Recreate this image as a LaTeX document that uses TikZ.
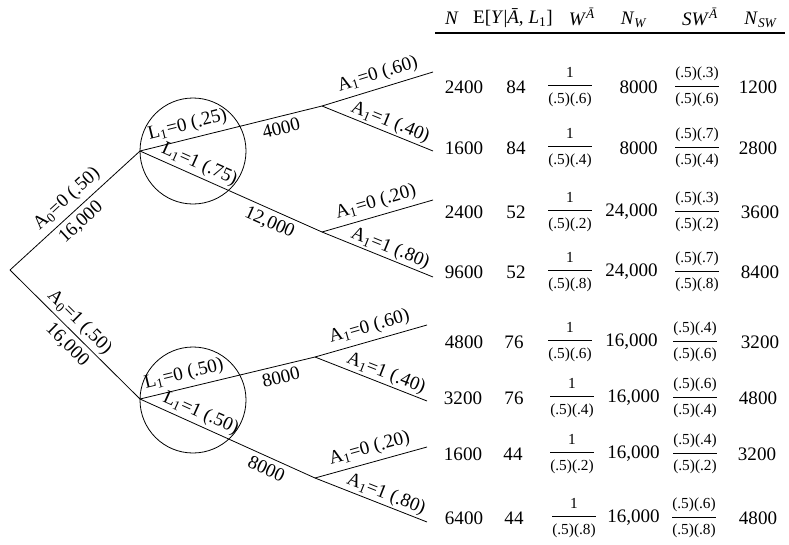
\documentclass[tikz,border=0pt]{standalone}
\usepackage[no-math]{fontspec}
\setmainfont{Liberation Serif}
\newcommand{\wfrac}[2]{$\displaystyle\frac{\mbox{\fontsize{11.5}{13}\selectfont #1}}{\mbox{\fontsize{11.5}{13}\selectfont #2}}$}
\tikzset{
  branch/.style={line width=0.6pt},
  lbl/.style={sloped, inner sep=3.5pt},
  cell/.style={inner sep=0pt, anchor=center},
  num/.style={inner sep=0pt, anchor=east},
  lcircle/.style={draw, circle, line width=0.6pt, minimum size=79.5pt, inner sep=0pt}
}
\begin{document}
\begin{tikzpicture}[x=0.75pt, y=-0.75pt, font=\fontsize{14.3}{17}\selectfont, line join=miter]
	\useasboundingbox (0,0) rectangle (789,544);

	% tree points
	\coordinate (root) at (10,270);
	\coordinate (l0) at (140,151);
	\coordinate (l1) at (140,399);
	\coordinate (a00) at (322,106);
	\coordinate (a01) at (322,232);
	\coordinate (a10) at (315,357);
	\coordinate (a11) at (315,478);
	\coordinate (e000) at (433,72);
	\coordinate (e001) at (433,151);
	\coordinate (e010) at (433,200);
	\coordinate (e011) at (433,277);
	\coordinate (e100) at (427,325);
	\coordinate (e101) at (427,401);
	\coordinate (e110) at (427,447);
	\coordinate (e111) at (427,522);

	% circles round the L1 splits
	\node[lcircle] (c0) at (193,151) {};
	\node[lcircle] (c1) at (193,400) {};

	% A0 branches
	\draw[branch] (root) -- node[lbl, above, pos=0.51] {A\textsubscript{0}=0 (.50)} node[lbl, below, pos=0.48] {16,000} (l0);
	\draw[branch] (root) -- node[lbl, above, pos=0.47, inner sep=2pt] {A\textsubscript{0}=1 (.50)} node[lbl, below, pos=0.51] {16,000} (l1);

	% L1 branches
	\draw[branch] (l0) -- node[lbl, above, pos=0.28] {L\textsubscript{1}=0 (.25)} node[lbl, below, pos=0.76] {4000} (a00);
	\draw[branch] (l0) -- node[lbl, above, pos=0.30, inner sep=2pt] {L\textsubscript{1}=1 (.75)} node[lbl, below, pos=0.74] {12,000} (a01);
	\draw[branch] (l1) -- node[lbl, above, pos=0.27] {L\textsubscript{1}=0 (.50)} node[lbl, below, pos=0.79] {8000} (a10);
	\draw[branch] (l1) -- node[lbl, above, pos=0.32, inner sep=2pt] {L\textsubscript{1}=1 (.50)} node[lbl, below, pos=0.75] {8000} (a11);

	% A1 branches
	\draw[branch] (a00) -- node[lbl, above, pos=0.54] {A\textsubscript{1}=0 (.60)} (e000);
	\draw[branch] (a00) -- node[lbl, above, pos=0.58, inner sep=1pt] {A\textsubscript{1}=1 (.40)} (e001);
	\draw[branch] (a01) -- node[lbl, above, pos=0.52] {A\textsubscript{1}=0 (.20)} (e010);
	\draw[branch] (a01) -- node[lbl, above, pos=0.58, inner sep=1pt] {A\textsubscript{1}=1 (.80)} (e011);
	\draw[branch] (a10) -- node[lbl, above, pos=0.52] {A\textsubscript{1}=0 (.60)} (e100);
	\draw[branch] (a10) -- node[lbl, above, pos=0.60, inner sep=1pt] {A\textsubscript{1}=1 (.40)} (e101);
	\draw[branch] (a11) -- node[lbl, above, pos=0.52] {A\textsubscript{1}=0 (.20)} (e110);
	\draw[branch] (a11) -- node[lbl, above, pos=0.60, inner sep=1pt] {A\textsubscript{1}=1 (.80)} (e111);

	% table head
	\node[cell] (hn) at (452,18) {\textit{N}};
	\node[cell] (he) at (513,18) {E[\textit{Y}|\textit{Ā}, \textit{L}\textsubscript{1}]};
	\node[cell] (hw) at (582,17) {\textit{W}\textsuperscript{\textit{Ā}}};
	\node[cell] (hnw) at (634,20) {\textit{N}\textsubscript{\textit{W}}};
	\node[cell] (hsw) at (700,17) {\textit{SW}\textsuperscript{\textit{Ā}}};
	\node[cell] (hnsw) at (761,20) {\textit{N}\textsubscript{\textit{SW}}};
	\coordinate (rulel) at (435,33);
	\coordinate (ruler) at (785,33);
	\draw[line width=0.9pt] (rulel) -- (ruler);

	% row 1
	\node[cell] (n1) at (464,87) {2400};
	\node[cell] (y1) at (516,87) {84};
	\node[cell] (w1) at (570,87) {\wfrac{1}{(.5)(.6)}};
	\node[num] (nw1) at (658,87) {8000};
	\node[cell] (sw1) at (697,87) {\wfrac{(.5)(.3)}{(.5)(.6)}};
	\node[cell] (nsw1) at (758,87) {1200};
	% row 2
	\node[cell] (n2) at (464,148) {1600};
	\node[cell] (y2) at (516,148) {84};
	\node[cell] (w2) at (570,148) {\wfrac{1}{(.5)(.4)}};
	\node[num] (nw2) at (658,148) {8000};
	\node[cell] (sw2) at (697,148) {\wfrac{(.5)(.7)}{(.5)(.4)}};
	\node[cell] (nsw2) at (758,148) {2800};
	% row 3
	\node[cell] (n3) at (464,212) {2400};
	\node[cell] (y3) at (516,212) {52};
	\node[cell] (w3) at (570,212) {\wfrac{1}{(.5)(.2)}};
	\node[num] (nw3) at (658,212) {24,000};
	\node[cell] (sw3) at (697,212) {\wfrac{(.5)(.3)}{(.5)(.2)}};
	\node[cell] (nsw3) at (760,212) {3600};
	% row 4
	\node[cell] (n4) at (464,272) {9600};
	\node[cell] (y4) at (516,272) {52};
	\node[cell] (w4) at (570,272) {\wfrac{1}{(.5)(.8)}};
	\node[num] (nw4) at (658,272) {24,000};
	\node[cell] (sw4) at (697,272) {\wfrac{(.5)(.7)}{(.5)(.8)}};
	\node[cell] (nsw4) at (760,272) {8400};
	% row 5
	\node[cell] (n5) at (464,342) {4800};
	\node[cell] (y5) at (514,342) {76};
	\node[cell] (w5) at (570,342) {\wfrac{1}{(.5)(.6)}};
	\node[num] (nw5) at (658,342) {16,000};
	\node[cell] (sw5) at (695,342) {\wfrac{(.5)(.4)}{(.5)(.6)}};
	\node[cell] (nsw5) at (760,342) {3200};
	% row 6
	\node[cell] (n6) at (463,398) {3200};
	\node[cell] (y6) at (514,398) {76};
	\node[cell] (w6) at (572,398) {\wfrac{1}{(.5)(.4)}};
	\node[num] (nw6) at (660,398) {16,000};
	\node[cell] (sw6) at (695,398) {\wfrac{(.5)(.6)}{(.5)(.4)}};
	\node[cell] (nsw6) at (758,398) {4800};
	% row 7
	\node[cell] (n7) at (463,454) {1600};
	\node[cell] (y7) at (513,454) {44};
	\node[cell] (w7) at (572,454) {\wfrac{1}{(.5)(.2)}};
	\node[num] (nw7) at (660,454) {16,000};
	\node[cell] (sw7) at (695,454) {\wfrac{(.5)(.4)}{(.5)(.2)}};
	\node[cell] (nsw7) at (757,454) {3200};
	% row 8
	\node[cell] (n8) at (464,518) {6400};
	\node[cell] (y8) at (514,518) {44};
	\node[cell] (w8) at (574,518) {\wfrac{1}{(.5)(.8)}};
	\node[num] (nw8) at (660,518) {16,000};
	\node[cell] (sw8) at (694,518) {\wfrac{(.5)(.6)}{(.5)(.8)}};
	\node[cell] (nsw8) at (758,518) {4800};
\end{tikzpicture}
\end{document}
